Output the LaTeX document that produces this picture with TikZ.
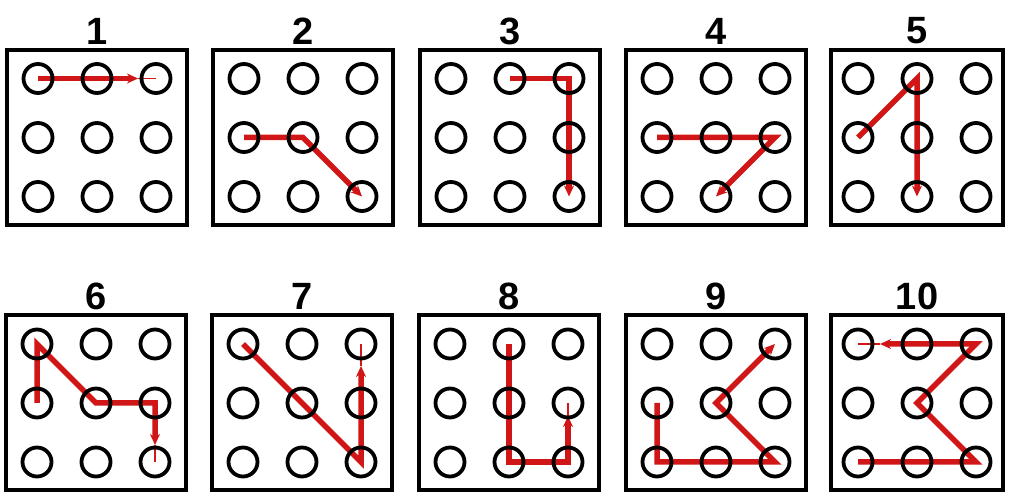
\documentclass[tikz,border=0pt]{standalone}
\usepackage{fontspec}
\setmainfont{Liberation Sans}
\usetikzlibrary{arrows.meta,calc}
\pgfdeclarelayer{redlayer}
\pgfsetlayers{redlayer,main}
\definecolor{pathred}{RGB}{208,22,22}
\tikzset{
  panelbox/.style={draw=black,line width=4pt,minimum height=175pt,inner sep=0pt},
  dotring/.style={circle,draw=black,line width=3.8pt,minimum size=29pt,inner sep=0pt},
  numlbl/.style={inner sep=0pt,font=\fontsize{38}{40}\selectfont\bfseries},
  redpath/.style={draw=pathred,line width=5.5pt,line join=miter},
  tiparrow/.style={-{Stealth[length=11pt,width=10pt]}},
  thinred/.style={draw=pathred,line width=1.3pt}
}
\newcommand\gridpanel[5]{% name, cx, cy, label, width
  \node[panelbox,minimum width=#5pt] (#1) at (#2,#3) {};
  \node[numlbl] (#1-l) at (#2,#3+106.5) {#4};
  \foreach \i in {1,2,3}{\foreach \j in {1,2,3}{
    \node[dotring] (#1-\i\j) at ({#2+(\i-2)*59},{#3-(\j-2)*59}) {};
  }}
}
\begin{document}
\begin{tikzpicture}[x=1pt,y=1pt]
\useasboundingbox (0,0) rectangle (1009,495);
\gridpanel{pa}{97}{357.5}{1}{180}
\gridpanel{pb}{303}{357.5}{2}{180}
\gridpanel{pc}{510}{357.5}{3}{180}
\gridpanel{pd}{716}{357.5}{4}{180}
\gridpanel{pe}{917}{357.5}{5}{172}
\gridpanel{pf}{96}{92}{6}{180}
\gridpanel{pg}{302}{92}{7}{180}
\gridpanel{ph}{509}{92}{8}{180}
\gridpanel{pi}{716}{92}{9}{180}
\gridpanel{pj}{917}{92}{10}{172}
\coordinate (pa-e) at ($(pa-31.center)!18pt!(pa-21.center)$);
\coordinate (pf-e) at ($(pf-33.center)!17pt!(pf-32.center)$);
\coordinate (pg-e) at ($(pg-31.center)!22pt!(pg-32.center)$);
\coordinate (ph-e) at ($(ph-32.center)!13pt!(ph-33.center)$);
\coordinate (pj-e) at ($(pj-11.center)!22pt!(pj-21.center)$);
\begin{pgfonlayer}{redlayer}
% 1
\draw[redpath,tiparrow] (pa-11.center) -- (pa-21.center) -- (pa-e);
\draw[thinred] (pa-e) -- (pa-31.center);
% 2
\draw[redpath,tiparrow] (pb-12.center) -- (pb-22.center) -- (pb-33.center);
% 3
\draw[redpath,tiparrow] (pc-21.center) -- (pc-31.center) -- (pc-32.center) -- (pc-33.center);
% 4
\draw[redpath,tiparrow] (pd-12.center) -- (pd-22.center) -- (pd-32.center) -- (pd-23.center);
% 5
\draw[redpath,tiparrow] (pe-12.center) -- (pe-21.center) -- (pe-22.center) -- (pe-23.center);
% 6
\draw[redpath,tiparrow] (pf-12.center) -- (pf-11.center) -- (pf-22.center) -- (pf-32.center) -- (pf-e);
\draw[thinred] (pf-e) -- (pf-33.center);
% 7
\draw[redpath,tiparrow] (pg-11.center) -- (pg-22.center) -- (pg-33.center) -- (pg-32.center) -- (pg-e);
\draw[thinred] (pg-e) -- (pg-31.center);
% 8
\draw[redpath,tiparrow] (ph-21.center) -- (ph-22.center) -- (ph-23.center) -- (ph-33.center) -- (ph-e);
\draw[thinred] (ph-e) -- (ph-32.center);
% 9
\draw[redpath,tiparrow] (pi-12.center) -- (pi-13.center) -- (pi-23.center) -- (pi-33.center) -- (pi-22.center) -- (pi-31.center);
% 10
\draw[redpath,tiparrow] (pj-13.center) -- (pj-23.center) -- (pj-33.center) -- (pj-22.center) -- (pj-31.center) -- (pj-21.center) -- (pj-e);
\draw[thinred] (pj-e) -- (pj-11.center);
\end{pgfonlayer}
\end{tikzpicture}
\end{document}
